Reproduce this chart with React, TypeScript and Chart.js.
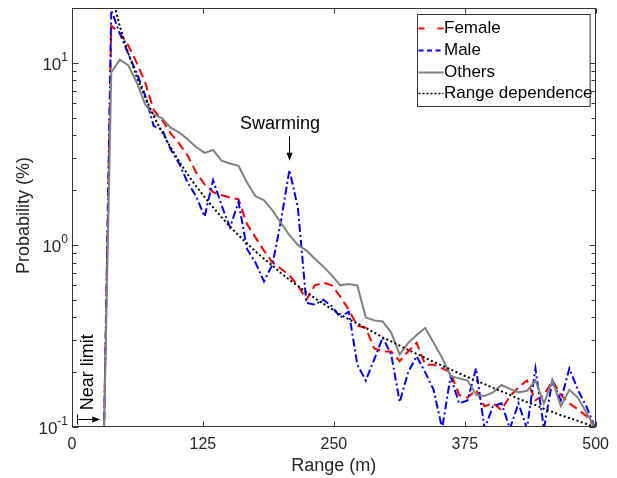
import { useEffect, useRef } from "react";
import { Chart, registerables } from "chart.js";

Chart.register(...registerables);

// Range bins (m)
const ranges = [
  30.5, 37.5, 45.6, 53.7, 61.8, 69.9, 78.0, 86.1, 94.2, 102.3, 110.4, 118.5, 126.6, 134.7,
  142.8, 150.9, 159.0, 167.1, 175.2, 183.3, 191.4, 199.5, 207.6, 215.7, 223.8, 231.9, 240.0,
  248.1, 256.2, 264.3, 272.4, 280.5, 288.6, 296.7, 304.8, 312.9, 321.0, 329.1, 337.2, 345.3,
  353.4, 361.5, 369.6, 377.7, 385.8, 393.9, 402.0, 410.1, 418.2, 426.3, 434.4, 442.5, 450.6,
  458.7, 466.8, 474.9, 483.0, 491.1, 499.2,
];

// Probability (%)
const female = [
  0.09, 16, 14.5, 12.5, 10, 7.8, 5.5, 4.85, 4.1, 3.6, 3.1, 2.5, 2.15, 1.95, 1.88, 1.82, 1.78,
  1.3, 1.1, 0.93, 0.8, 0.74, 0.68, 0.6, 0.5, 0.6, 0.62, 0.6, 0.52, 0.44, 0.36, 0.35, 0.27,
  0.26, 0.26, 0.23, 0.26, 0.29, 0.22, 0.22, 0.21, 0.2, 0.15, 0.145, 0.16, 0.13, 0.135, 0.124,
  0.148, 0.165, 0.18, 0.14, 0.15, 0.18, 0.15, 0.135, 0.125, 0.115, 0.1,
];

const male = [
  0.09, 19.5, 14.5, 11.2, 8.8, 6.6, 4.5, 4.3, 3.35, 2.8, 2.2, 1.85, 1.43, 2.27, 1.65, 1.25,
  1.72, 0.95, 0.8, 0.63, 0.78, 1.35, 2.58, 1.6, 0.48, 0.47, 0.5, 0.46, 0.4, 0.43, 0.22, 0.18,
  0.235, 0.31, 0.25, 0.137, 0.2, 0.245, 0.2, 0.16, 0.098, 0.19, 0.135, 0.14, 0.21, 0.098,
  0.13, 0.135, 0.098, 0.135, 0.098, 0.21, 0.098, 0.18, 0.14, 0.21, 0.16, 0.13, 0.1,
];

const others = [
  0.09, 8.85, 10.4, 9.7, 7.8, 5.9, 5.2, 4.95, 4.4, 4.15, 3.8, 3.45, 3.2, 3.32, 2.9, 2.8, 2.72,
  2.2, 1.85, 1.76, 1.55, 1.32, 1.13, 1.0, 0.93, 0.84, 0.76, 0.68, 0.6, 0.61, 0.6, 0.4, 0.385,
  0.38, 0.33, 0.25, 0.29, 0.32, 0.35, 0.29, 0.24, 0.19, 0.185, 0.18, 0.15, 0.148, 0.155, 0.17,
  0.162, 0.155, 0.158, 0.18, 0.135, 0.18, 0.13, 0.16, 0.145, 0.12, 0.1,
];

const rangeDependence = [
  null, 24.2, 15.9, 11.3, 8.37, 6.46, 5.11, 4.14, 3.43, 2.87, 2.44, 2.1, 1.83, 1.61, 1.42,
  1.26, 1.13, 1.02, 0.92, 0.84, 0.77, 0.7, 0.645, 0.595, 0.55, 0.51, 0.475, 0.445, 0.415,
  0.39, 0.37, 0.35, 0.33, 0.31, 0.295, 0.28, 0.265, 0.252, 0.24, 0.228, 0.217, 0.207, 0.197,
  0.188, 0.18, 0.172, 0.164, 0.157, 0.15, 0.143, 0.137, 0.132, 0.126, 0.121, 0.116, 0.112,
  0.108, 0.104, 0.1,
];

const seriesNames = ["Female", "Male", "Others", "Range dependence"];
const xTickValues = [0, 125, 250, 375, 500];
const yDecades = [0.1, 1, 10];
const yExponents = ["-1", "0", "1"];

const FONT = "'Liberation Sans', Arial, sans-serif";
const INK = "#262626";
const FRAME = "#333333";

const styles = [
  { color: "#ff0000", dash: [9, 5], legendDash: [6, 13] },
  { color: "#0000ff", dash: [8, 3, 2, 3], legendDash: [5, 3.5] },
  { color: "#808080", dash: [], legendDash: [] },
  { color: "#000000", dash: [2, 2.5], legendDash: [2, 2] },
];

function arrowHead(ctx: CanvasRenderingContext2D, x: number, y: number, dir: "down" | "right") {
  ctx.beginPath();
  if (dir === "down") {
    ctx.moveTo(x, y);
    ctx.lineTo(x - 3, y - 8);
    ctx.lineTo(x + 3, y - 8);
  } else {
    ctx.moveTo(x, y);
    ctx.lineTo(x - 8, y - 3);
    ctx.lineTo(x - 8, y + 3);
  }
  ctx.closePath();
  ctx.fill();
}

const decorPlugin = {
  id: "decor",
  afterDatasetsDraw(chart: any) {
    const { ctx, chartArea: a, scales } = chart;
    const xs = scales.x;
    const ys = scales.y;
    ctx.save();

    // annotations
    ctx.fillStyle = "#000";
    ctx.strokeStyle = "#000";
    ctx.lineWidth = 1;
    ctx.setLineDash([]);
    ctx.font = `18px ${FONT}`;
    ctx.textAlign = "center";
    ctx.textBaseline = "middle";
    ctx.fillText("Swarming", xs.getPixelForValue(198.5), ys.getPixelForValue(4.6));
    const ax = Math.round(xs.getPixelForValue(207.6)) + 0.5;
    const ay1 = ys.getPixelForValue(3.95);
    const ay2 = ys.getPixelForValue(2.9);
    ctx.beginPath();
    ctx.moveTo(ax, ay1);
    ctx.lineTo(ax, ay2 - 6);
    ctx.stroke();
    arrowHead(ctx, ax, ay2, "down");

    // near limit
    ctx.save();
    ctx.translate(xs.getPixelForValue(15), ys.getPixelForValue(0.2));
    ctx.rotate(-Math.PI / 2);
    ctx.fillText("Near limit", 0, 0);
    ctx.restore();
    const ny = Math.round(ys.getPixelForValue(0.11)) + 0.5;
    const nx1 = Math.round(xs.getPixelForValue(4.5)) + 0.5;
    const nx2 = xs.getPixelForValue(27);
    ctx.beginPath();
    ctx.moveTo(nx1, ny - 5);
    ctx.lineTo(nx1, ny + 5);
    ctx.moveTo(nx1, ny);
    ctx.lineTo(nx2 - 6, ny);
    ctx.stroke();
    arrowHead(ctx, nx2, ny, "right");

    // frame
    ctx.strokeStyle = FRAME;
    ctx.lineWidth = 1;
    const L = Math.round(a.left) + 0.5;
    const R = Math.round(a.right) - 0.5;
    const T = Math.round(a.top) + 0.5;
    const B = Math.round(a.bottom) - 0.5;
    ctx.strokeRect(L, T, R - L, B - T);
    ctx.beginPath();
    for (const v of xTickValues) {
      const p = Math.round(xs.getPixelForValue(v)) + 0.5;
      ctx.moveTo(p, B);
      ctx.lineTo(p, B - 5);
      ctx.moveTo(p, T);
      ctx.lineTo(p, T + 5);
    }
    for (const d of yDecades) {
      for (let m = 1; m <= 9; m++) {
        const v = m * d;
        if (v > ys.max * 1.0001 || v < ys.min * 0.9999) continue;
        const p = Math.round(ys.getPixelForValue(v)) + 0.5;
        const len = m === 1 ? 6 : 4;
        ctx.moveTo(L, p);
        ctx.lineTo(L + len, p);
        ctx.moveTo(R, p);
        ctx.lineTo(R - len, p);
      }
    }
    ctx.stroke();

    // y tick labels (10 with superscript)
    ctx.fillStyle = INK;
    ctx.textBaseline = "middle";
    ctx.textAlign = "right";
    const labelRight = a.left - 4;
    yDecades.forEach((v, i) => {
      const p = ys.getPixelForValue(v);
      ctx.font = `12px ${FONT}`;
      const ew = ctx.measureText(yExponents[i]).width;
      ctx.fillText(yExponents[i], labelRight, p - 5);
      ctx.font = `17px ${FONT}`;
      ctx.fillText("10", labelRight - ew, p + 2);
    });

    // axis titles
    ctx.font = `18px ${FONT}`;
    ctx.textAlign = "center";
    ctx.fillText("Range (m)", (a.left + a.right) / 2, 466);
    ctx.save();
    ctx.translate(24, (a.top + a.bottom) / 2 - 2);
    ctx.rotate(-Math.PI / 2);
    ctx.fillText("Probability (%)", 0, 0);
    ctx.restore();

    // legend
    const bl = 417.5;
    const br = a.right - 5.5;
    const bt = a.top + 6.5;
    const bb = bt + 92;
    ctx.fillStyle = "#ffffff";
    ctx.fillRect(bl, bt, br - bl, bb - bt);
    ctx.strokeStyle = FRAME;
    ctx.strokeRect(bl, bt, br - bl, bb - bt);
    ctx.font = `17px ${FONT}`;
    ctx.textAlign = "left";
    ctx.textBaseline = "middle";
    seriesNames.forEach((name, i) => {
      const y = Math.round(bt + 13.5 + i * 21.8) + 0.5;
      const st = styles[i];
      ctx.strokeStyle = st.color;
      ctx.lineWidth = i === 3 ? 1.5 : 2;
      ctx.setLineDash(st.legendDash);
      ctx.beginPath();
      ctx.moveTo(bl + 1, y);
      ctx.lineTo(bl + 26, y);
      ctx.stroke();
      ctx.setLineDash([]);
      ctx.fillStyle = "#000";
      ctx.fillText(name, bl + 26.5, y);
    });

    ctx.restore();
  },
};

export default function App() {
  const ref = useRef<HTMLCanvasElement | null>(null);

  useEffect(() => {
    document.body.style.margin = "0";
    const canvas = ref.current;
    if (!canvas) return;
    const seriesData = [female, male, others, rangeDependence];
    const datasets = seriesData.map((vals, i) => ({
      label: seriesNames[i],
      data: ranges.map((x, k) => ({ x, y: vals[k] })),
      borderColor: styles[i].color,
      backgroundColor: styles[i].color,
      borderWidth: 2,
      borderDash: styles[i].dash,
      pointRadius: 0,
      fill: false,
      tension: 0,
      spanGaps: false,
      order: 4 - i,
    }));
    const chart = new Chart(canvas, {
      type: "line",
      data: { datasets: datasets as any },
      options: {
        responsive: false,
        animation: false,
        devicePixelRatio: 1,
        events: [],
        layout: { padding: { left: 0, top: 8, right: 14, bottom: 0 } },
        plugins: { legend: { display: false }, tooltip: { enabled: false } },
        scales: {
          x: {
            type: "linear",
            min: 0,
            max: 500,
            grid: { display: false, drawTicks: false },
            border: { display: false },
            ticks: {
              stepSize: 125,
              padding: 8,
              maxRotation: 0,
              autoSkip: false,
              color: INK,
              font: { family: FONT, size: 16 },
            },
            afterFit: (s: any) => {
              s.height = 51;
            },
          },
          y: {
            type: "logarithmic",
            min: 0.1,
            max: 20,
            grid: { display: false, drawTicks: false },
            border: { display: false },
            ticks: { display: false },
            afterFit: (s: any) => {
              s.width = 72;
            },
          },
        },
      },
      plugins: [decorPlugin],
    });
    return () => chart.destroy();
  }, []);

  return <canvas ref={ref} width={617} height={478} style={{ display: "block" }} />;
}
